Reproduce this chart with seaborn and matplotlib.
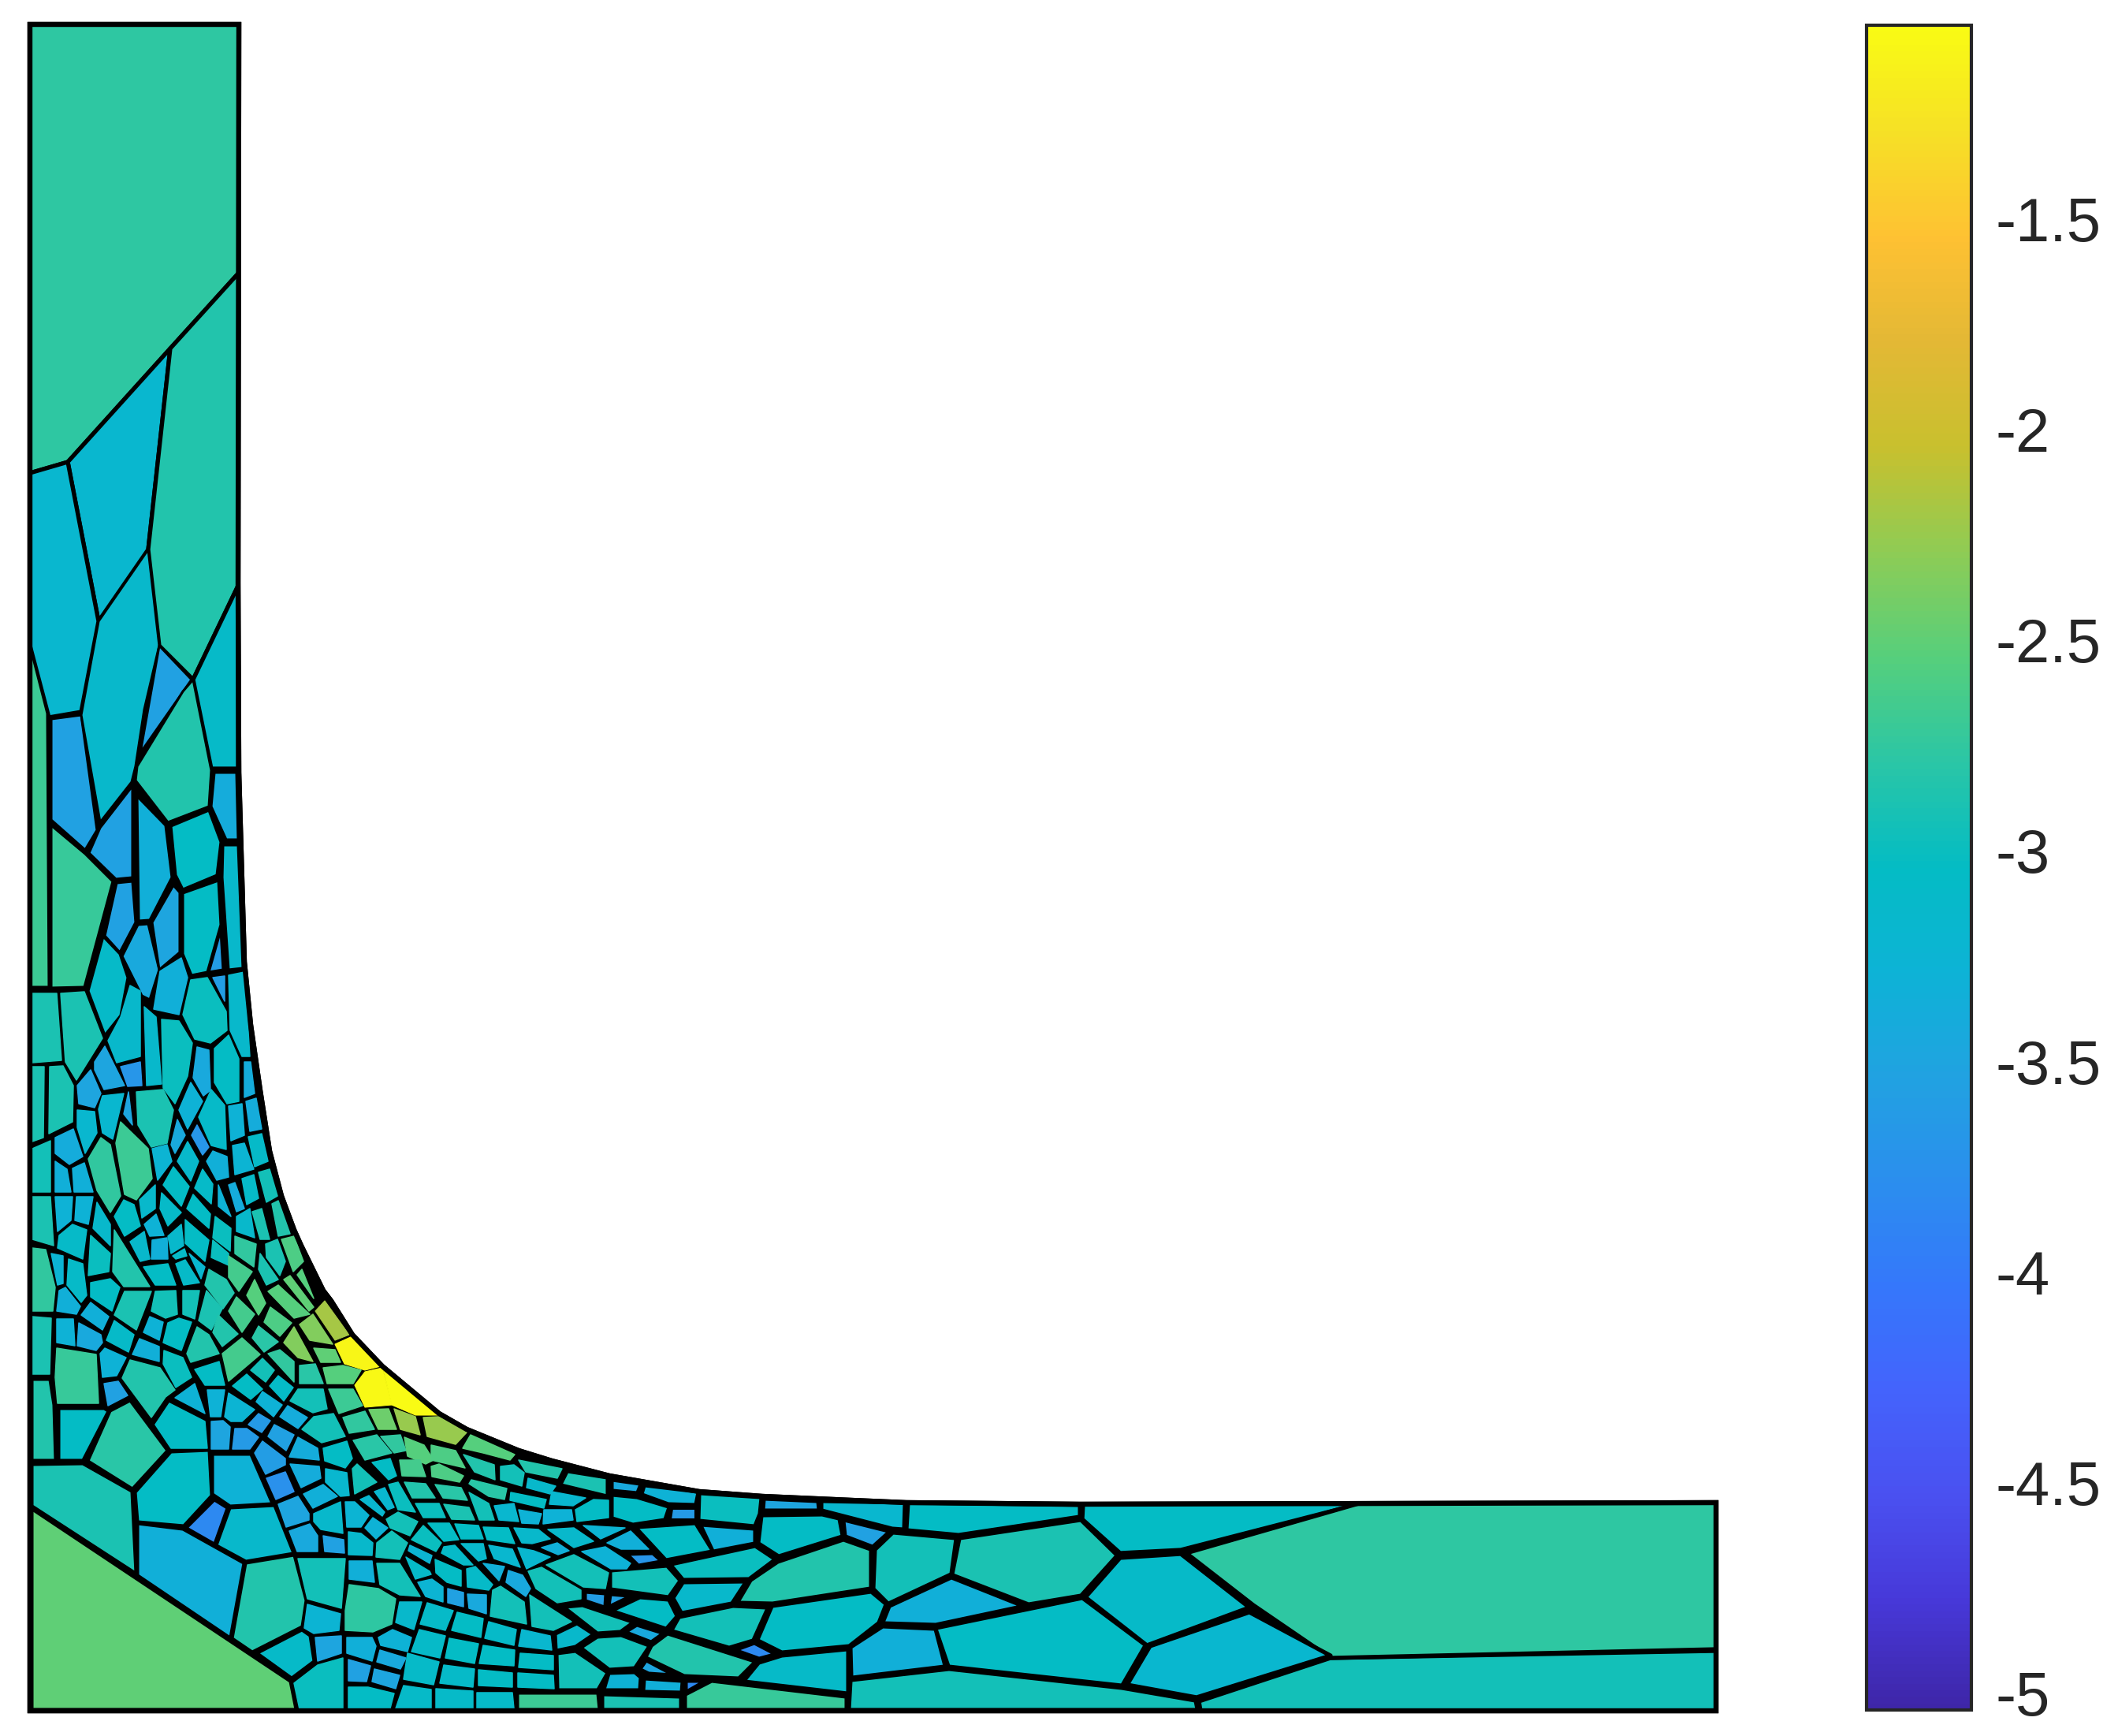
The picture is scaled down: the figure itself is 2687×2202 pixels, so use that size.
import numpy as np
import matplotlib
matplotlib.use("Agg")
import matplotlib.pyplot as plt
from matplotlib.collections import PolyCollection
from matplotlib.patches import Polygon
from matplotlib.transforms import ScaledTranslation
import seaborn as sns

# --- data: mesh, coordinates are image pixels ---
domain_outline = [(38, 31), (303, 31), (302, 740), (303, 980), (310, 1220), (318, 1300), (330, 1383),
                  (342, 1460), (357, 1517), (373, 1560), (382, 1580), (410, 1637), (420, 1650), (447, 1693),
                  (485, 1733), (557, 1793), (592, 1813), (658, 1840), (700, 1853), (773, 1872), (887, 1892),
                  (967, 1898), (1080, 1903), (1150, 1906), (1371, 1908), (2177, 1906), (2177, 2170), (38, 2170)]

# large cells read along the middle of their mesh lines
outlined_cells = [
    ([(38, 31), (303, 31), (303, 346), (216, 442), (86, 586), (38, 600)], -2.78),
    ([(86, 586), (216, 442), (188, 697), (125, 788)], -3.2),
    ([(216, 442), (303, 346), (302, 743), (245, 862), (202, 819), (188, 697)], -2.85),
    ([(38, 600), (86, 586), (125, 788), (103, 903), (62, 910), (38, 819)], -3.2),
    ([(245, 862), (302, 743), (302, 975), (268, 975)], -3.1),
    ([(1374, 1908), (1731, 1906), (1498, 1966), (1421, 1970), (1373, 1927)], -3.05),
    ([(1521, 2158), (1688, 2103), (2177, 2094), (2177, 2170), (1523, 2170)], -2.95),
    ([(1505, 1970), (1731, 1905), (2177, 1905), (2177, 2092), (1688, 2103), (1590, 2036)], -2.78),
    ([(1430, 2137), (1459, 2088), (1585, 2045), (1688, 2100), (1518, 2153)], -3.2),
    ([(1377, 2026), (1421, 1976), (1498, 1971), (1585, 2039), (1455, 2087)], -3.1),
]

# all other cells are read by their coloured inside
upright_cells = [
    ([(65, 912), (103, 907), (123, 1053), (108, 1078), (65, 1040)], -3.55),
    ([(125, 788), (188, 697), (202, 819), (183, 900), (172, 972), (167, 992), (127, 1043), (103, 907)], -3.15),
    ([(202, 819), (243, 862), (178, 955)], -3.55),
    ([(232, 877), (245, 862), (268, 977), (265, 1023), (213, 1043), (172, 990), (174, 972)], -2.85),
    ([(272, 980), (300, 980), (302, 1065), (287, 1065), (268, 1023)], -3.4),
    ([(168, 997), (168, 1113), (147, 1115), (113, 1082), (127, 1050)], -3.55),
    ([(174, 1010), (210, 1047), (218, 1113), (190, 1167), (176, 1168)], -3.35),
    ([(217, 1048), (265, 1028), (280, 1068), (275, 1110), (232, 1128), (223, 1110)], -3.05),
    ([(283, 1072), (302, 1072), (308, 1228), (290, 1230), (282, 1113)], -3.15),
    ([(65, 1047), (108, 1083), (143, 1118), (107, 1252), (65, 1253)], -2.72),
    ([(38, 819), (60, 905), (62, 1252), (38, 1252)], -2.7),
    ([(148, 1120), (168, 1118), (172, 1170), (152, 1208), (133, 1187)], -3.55),
    ([(155, 1213), (175, 1173), (188, 1172), (202, 1230), (190, 1268), (180, 1263)], -3.45),
    ([(193, 1170), (220, 1123), (228, 1132), (228, 1208), (202, 1230)], -3.5),
    ([(232, 1133), (277, 1117), (280, 1173), (263, 1233), (243, 1237), (232, 1210)], -3.05),
    ([(280, 1180), (283, 1230), (265, 1233)], -3.6),
    ([(131, 1188), (152, 1210), (162, 1240), (153, 1288), (133, 1313), (112, 1257)], -3.1),
]

column_cells = [
    ([(41, 1260), (72, 1260), (78, 1345), (41, 1348)], -2.9),
    ([(77, 1260), (107, 1258), (130, 1317), (97, 1370), (83, 1347)], -2.9),
    ([(137, 1320), (153, 1290), (165, 1250), (178, 1257), (178, 1340), (148, 1348)], -3.15),
    ([(120, 1347), (133, 1327), (158, 1377), (132, 1382), (120, 1357)], -3.5),
    ([(153, 1353), (178, 1347), (180, 1377), (162, 1378)], -3.7),
    ([(183, 1277), (198, 1290), (205, 1375), (186, 1377)], -3.15),
    ([(203, 1232), (230, 1215), (238, 1240), (227, 1287), (195, 1280)], -3.35),
    ([(242, 1243), (263, 1240), (287, 1283), (288, 1307), (267, 1323), (247, 1318), (232, 1287)], -3.0),
    ([(270, 1240), (285, 1238), (285, 1270)], -3.6),
    ([(290, 1237), (310, 1233), (317, 1340), (307, 1340), (292, 1307)], -3.15),
    ([(205, 1293), (227, 1295), (244, 1323), (238, 1365), (222, 1400), (207, 1380)], -3.0),
    ([(250, 1328), (265, 1332), (267, 1383), (258, 1390), (245, 1367)], -3.45),
    ([(272, 1330), (290, 1313), (303, 1343), (303, 1397), (288, 1400), (272, 1373)], -3.05),
    ([(310, 1347), (318, 1347), (323, 1387), (310, 1392)], -3.4),
    ([(173, 1385), (207, 1382), (220, 1408), (212, 1450), (192, 1455), (175, 1427)], -2.9),
    ([(242, 1373), (257, 1397), (238, 1432), (227, 1408)], -3.3),
    ([(268, 1382), (285, 1402), (287, 1458), (268, 1453), (252, 1417)], -3.1),
    ([(290, 1403), (307, 1400), (310, 1440), (293, 1447)], -3.3),
    ([(312, 1397), (325, 1393), (332, 1432), (317, 1435)], -3.4),
    ([(98, 1377), (115, 1357), (128, 1387), (120, 1405), (100, 1400)], -3.5),
    ([(130, 1390), (157, 1387), (143, 1445), (130, 1437), (125, 1407)], -3.2),
    ([(163, 1385), (168, 1427), (157, 1413)], -3.5),
    ([(41, 1353), (56, 1353), (55, 1443), (41, 1448)], -2.9),
    ([(63, 1353), (80, 1352), (93, 1377), (92, 1423), (62, 1438)], -2.9),
    ([(98, 1408), (120, 1410), (123, 1437), (108, 1463), (98, 1430)], -3.2),
    ([(41, 1457), (64, 1447), (64, 1512), (41, 1512)], -2.95),
    ([(70, 1443), (93, 1432), (105, 1467), (88, 1477), (70, 1463)], -3.4),
    ([(70, 1473), (85, 1483), (90, 1512), (70, 1512)], -3.35),
    ([(92, 1482), (107, 1475), (118, 1512), (94, 1512)], -3.35),
    ([(112, 1470), (128, 1443), (140, 1452), (153, 1517), (140, 1538), (123, 1510)], -2.75),
    ([(147, 1450), (153, 1423), (188, 1457), (193, 1495), (173, 1522), (158, 1515)], -2.7),
    ([(193, 1457), (212, 1452), (218, 1473), (200, 1497)], -3.25),
    ([(225, 1420), (235, 1440), (222, 1463), (217, 1452)], -3.45),
    ([(250, 1427), (265, 1455), (257, 1465), (243, 1440)], -3.7),
    ([(270, 1460), (288, 1467), (290, 1493), (275, 1497), (262, 1473)], -3.35),
    ([(238, 1448), (252, 1473), (242, 1498), (225, 1473)], -3.15),
    ([(295, 1453), (310, 1450), (322, 1483), (298, 1490)], -3.25),
    ([(315, 1442), (332, 1438), (340, 1473), (323, 1480)], -3.1),
    ([(220, 1480), (240, 1505), (230, 1530), (207, 1503)], -3.05),
    ([(257, 1483), (270, 1502), (268, 1527), (247, 1507)], -3.1),
    ([(277, 1503), (293, 1543), (277, 1530)], -3.3),
    ([(290, 1503), (298, 1500), (310, 1533), (300, 1537)], -3.4),
    ([(307, 1495), (322, 1490), (328, 1520), (313, 1528)], -3.1),
    ([(328, 1487), (342, 1483), (352, 1517), (338, 1525)], -2.95),
    ([(177, 1522), (197, 1503), (197, 1533), (180, 1545)], -3.15),
    ([(205, 1513), (230, 1538), (213, 1555), (203, 1533)], -3.1),
    ([(237, 1533), (245, 1515), (267, 1540), (265, 1558)], -3.05),
    ([(273, 1543), (293, 1558), (292, 1587), (270, 1570)], -3.0),
    ([(300, 1543), (317, 1533), (323, 1570), (300, 1562)], -3.15),
    ([(320, 1537), (332, 1533), (342, 1572), (330, 1572)], -2.9),
    ([(345, 1527), (353, 1523), (368, 1565), (353, 1568)], -2.85),
    ([(41, 1518), (64, 1518), (68, 1580), (41, 1572)], -2.9),
    ([(70, 1518), (92, 1518), (90, 1548), (73, 1562)], -3.3),
    ([(97, 1518), (118, 1518), (112, 1553), (95, 1548)], -3.3),
    ([(123, 1525), (140, 1553), (140, 1580), (118, 1558)], -3.15),
    ([(75, 1567), (92, 1553), (110, 1560), (105, 1597), (73, 1583)], -3.1),
    ([(157, 1522), (170, 1528), (178, 1555), (158, 1568), (145, 1543)], -3.05),
    ([(198, 1540), (208, 1567), (190, 1568), (183, 1553)], -3.3),
    ([(230, 1553), (233, 1580), (217, 1590), (213, 1568)], -3.15),
    ([(235, 1547), (265, 1573), (260, 1600), (235, 1577)], -3.05),
]

corner_cells = [
    ([(41, 1583), (58, 1585), (70, 1633), (67, 1663), (41, 1663)], -2.75),
    ([(65, 1590), (80, 1593), (80, 1628), (73, 1630)], -3.25),
    ([(87, 1597), (105, 1603), (110, 1643), (103, 1652), (85, 1630)], -3.1),
    ([(115, 1567), (140, 1590), (138, 1613), (112, 1618)], -3.0),
    ([(145, 1560), (190, 1632), (157, 1632), (143, 1613)], -2.85),
    ([(165, 1575), (183, 1562), (190, 1597), (178, 1600)], -3.15),
    ([(193, 1573), (212, 1570), (213, 1597), (192, 1597)], -3.35),
    ([(219, 1593), (234, 1584), (237, 1593), (223, 1597)], -3.1),
    ([(270, 1573), (290, 1590), (290, 1605), (268, 1595)], -3.0),
    ([(298, 1568), (325, 1578), (322, 1607), (298, 1590)], -2.75),
    ([(337, 1578), (352, 1572), (362, 1600), (355, 1618), (338, 1595)], -2.9),
    ([(357, 1572), (373, 1568), (385, 1600), (372, 1613)], -2.6),
    ([(182, 1607), (213, 1603), (223, 1630), (197, 1630)], -3.05),
    ([(223, 1603), (235, 1598), (253, 1627), (233, 1630)], -3.1),
    ([(240, 1590), (260, 1607), (255, 1622)], -3.2),
    ([(265, 1610), (287, 1623), (297, 1640), (283, 1660), (260, 1630)], -2.85),
    ([(290, 1593), (320, 1613), (303, 1638), (290, 1620)], -2.65),
    ([(330, 1590), (353, 1623), (338, 1630), (328, 1610)], -2.9),
    ([(323, 1623), (337, 1653), (328, 1668), (313, 1643)], -2.55),
    ([(340, 1638), (353, 1630), (393, 1667), (373, 1672)], -2.55),
    ([(360, 1623), (368, 1618), (398, 1658), (392, 1663)], -2.5),
    ([(377, 1617), (383, 1610), (398, 1647)], -2.55),
    ([(75, 1637), (83, 1633), (102, 1657), (97, 1667), (72, 1663)], -3.35),
    ([(41, 1670), (65, 1672), (63, 1743), (41, 1743)], -2.9),
    ([(72, 1673), (93, 1673), (95, 1707), (72, 1703)], -3.3),
    ([(115, 1652), (138, 1670), (130, 1687), (103, 1668)], -3.35),
    ([(100, 1678), (128, 1693), (130, 1703), (122, 1713), (98, 1707)], -3.45),
    ([(115, 1627), (140, 1622), (152, 1633), (142, 1663), (115, 1645)], -3.05),
    ([(158, 1638), (192, 1638), (173, 1687), (145, 1668)], -2.9),
    ([(145, 1675), (170, 1693), (163, 1715), (135, 1700)], -3.1),
    ([(190, 1670), (207, 1677), (202, 1700), (182, 1690)], -3.3),
    ([(197, 1638), (223, 1637), (225, 1667), (210, 1672), (192, 1663)], -2.95),
    ([(232, 1637), (253, 1637), (247, 1673), (232, 1667)], -2.95),
    ([(262, 1637), (282, 1660), (268, 1687), (252, 1675)], -2.9),
    ([(300, 1645), (323, 1667), (307, 1690), (290, 1663)], -2.65),
    ([(343, 1658), (370, 1678), (355, 1695), (335, 1677)], -2.6),
    ([(213, 1678), (227, 1672), (243, 1677), (230, 1713), (207, 1703)], -3.05),
    ([(250, 1683), (265, 1693), (278, 1717), (242, 1728), (237, 1717)], -2.85),
    ([(277, 1668), (302, 1692), (282, 1708), (270, 1690)], -2.85),
    ([(307, 1697), (330, 1718), (290, 1752), (282, 1717)], -2.65),
    ([(328, 1682), (353, 1702), (335, 1715), (320, 1697)], -2.8),
    ([(373, 1683), (397, 1727), (378, 1722), (360, 1703)], -2.35),
    ([(355, 1712), (373, 1727), (373, 1753), (340, 1717)], -2.75),
    ([(333, 1723), (348, 1738), (337, 1753), (318, 1738)], -2.95),
    ([(247, 1737), (278, 1727), (285, 1757), (260, 1757)], -3.05),
    ([(208, 1713), (232, 1722), (243, 1747), (223, 1760), (207, 1730)], -3.0),
    ([(177, 1698), (202, 1708), (202, 1727), (168, 1718)], -3.35),
    ([(133, 1710), (160, 1722), (148, 1745), (130, 1747), (127, 1717)], -3.3),
    ([(165, 1725), (203, 1735), (222, 1763), (210, 1772), (192, 1798), (155, 1748)], -2.85),
    ([(72, 1710), (122, 1718), (125, 1780), (73, 1780), (70, 1747)], -2.72),
    ([(132, 1755), (150, 1752), (162, 1770), (137, 1783)], -3.55),
    ([(247, 1755), (260, 1793), (222, 1773)], -3.3),
    ([(263, 1763), (285, 1763), (280, 1797), (267, 1797)], -3.3),
    ([(215, 1780), (260, 1803), (263, 1837), (217, 1837), (197, 1807)], -3.05),
    ([(290, 1767), (323, 1788), (307, 1803), (293, 1803), (285, 1797)], -3.25),
    ([(313, 1743), (333, 1762), (318, 1775), (295, 1758)], -3.05),
    ([(353, 1745), (372, 1760), (360, 1777), (342, 1758)], -3.08),
    ([(333, 1765), (358, 1782), (347, 1797), (325, 1778)], -3.3),
    ([(365, 1783), (390, 1798), (378, 1812), (355, 1797)], -3.4),
    ([(328, 1793), (343, 1802), (332, 1817), (315, 1807)], -3.65),
    ([(348, 1807), (373, 1820), (363, 1840), (340, 1822)], -3.55),
    ([(268, 1803), (283, 1802), (292, 1810), (290, 1838), (268, 1838)], -3.5),
    ([(298, 1812), (313, 1812), (328, 1823), (317, 1838), (295, 1838)], -3.65),
    ([(333, 1828), (362, 1850), (362, 1858), (337, 1870), (323, 1843)], -3.6),
    ([(378, 1823), (403, 1837), (405, 1852), (367, 1848)], -3.4),
    ([(368, 1857), (405, 1860), (407, 1875), (382, 1887)], -3.4),
    ([(362, 1867), (373, 1892), (350, 1902), (338, 1875)], -3.75),
    ([(378, 1898), (392, 1920), (392, 1928), (363, 1937), (353, 1908)], -3.5),
    ([(367, 1942), (393, 1933), (403, 1948), (403, 1968), (377, 1968)], -3.45),
]

throat_cells = [
    ([(380, 1680), (397, 1667), (422, 1705), (393, 1700)], -2.35),
    ([(398, 1710), (425, 1712), (432, 1728), (407, 1728)], -2.5),
    ([(410, 1735), (435, 1732), (458, 1738), (448, 1755), (415, 1755)], -2.55),
    ([(380, 1732), (400, 1730), (410, 1755), (380, 1755)], -2.8),
    ([(417, 1762), (448, 1762), (460, 1783), (430, 1793)], -2.7),
    ([(378, 1762), (410, 1762), (415, 1787), (397, 1792), (368, 1777)], -2.95),
    ([(468, 1788), (493, 1787), (503, 1813), (480, 1813)], -2.45),
    ([(500, 1787), (527, 1797), (533, 1820), (508, 1813)], -2.25),
    ([(537, 1798), (557, 1797), (592, 1817), (578, 1832), (542, 1822)], -2.25),
    ([(435, 1798), (463, 1790), (475, 1813), (443, 1818)], -2.75),
    ([(383, 1813), (398, 1797), (423, 1793), (438, 1822), (408, 1830)], -2.95),
    ([(410, 1837), (440, 1828), (447, 1850), (438, 1862), (412, 1853)], -3.05),
    ([(448, 1827), (478, 1820), (497, 1843), (463, 1852)], -2.8),
    ([(483, 1822), (508, 1820), (515, 1840), (500, 1843)], -2.75),
    ([(513, 1823), (538, 1833), (550, 1852), (540, 1857), (517, 1847)], -2.55),
    ([(547, 1833), (578, 1840), (590, 1862), (547, 1852)], -2.6),
    ([(587, 1837), (597, 1820), (653, 1845), (647, 1852), (613, 1843)], -2.55),
    ([(588, 1845), (627, 1858), (628, 1877), (602, 1867)], -2.85),
    ([(635, 1860), (652, 1858), (665, 1868), (662, 1885), (635, 1877)], -2.95),
    ([(658, 1852), (713, 1863), (707, 1875), (667, 1867)], -2.85),
    ([(507, 1852), (533, 1852), (540, 1873), (510, 1872)], -2.65),
    ([(547, 1860), (557, 1857), (588, 1872), (583, 1880), (548, 1873)], -2.6),
    ([(472, 1855), (495, 1850), (503, 1872), (493, 1877)], -3.05),
    ([(447, 1863), (453, 1857), (478, 1880), (450, 1895)], -2.95),
    ([(413, 1863), (440, 1868), (443, 1897), (432, 1898), (413, 1880)], -3.2),
    ([(513, 1880), (540, 1882), (552, 1900), (523, 1900)], -2.85),
    ([(552, 1883), (585, 1887), (593, 1903), (562, 1900)], -2.8),
    ([(598, 1877), (643, 1888), (640, 1902), (620, 1898), (595, 1882)], -2.8),
    ([(648, 1893), (693, 1902), (690, 1913), (647, 1903)], -3.05),
    ([(670, 1875), (705, 1885), (698, 1895), (668, 1887)], -3.15),
    ([(595, 1893), (620, 1907), (627, 1928), (608, 1928)], -2.95),
    ([(527, 1907), (557, 1907), (565, 1925), (537, 1925)], -3.0),
    ([(563, 1908), (595, 1912), (602, 1928), (573, 1927)], -2.9),
    ([(627, 1910), (652, 1907), (658, 1930), (633, 1928)], -3.2),
    ([(658, 1915), (687, 1920), (683, 1933), (662, 1932)], -3.3),
    ([(700, 1892), (743, 1900), (727, 1910), (697, 1908)], -3.2),
    ([(690, 1915), (725, 1915), (727, 1928), (689, 1933)], -3.3),
    ([(730, 1915), (753, 1902), (772, 1903), (772, 1925), (732, 1930)], -3.05),
    ([(543, 1932), (570, 1932), (582, 1953), (563, 1955)], -3.05),
    ([(577, 1933), (607, 1935), (613, 1952), (585, 1952)], -3.05),
    ([(613, 1937), (645, 1938), (653, 1958), (618, 1953)], -3.05),
    ([(652, 1938), (683, 1940), (698, 1952), (675, 1958), (662, 1957)], -3.15),
    ([(695, 1940), (728, 1938), (753, 1955), (728, 1963)], -3.15),
    ([(740, 1935), (793, 1938), (762, 1952)], -3.25),
    ([(770, 1957), (800, 1942), (823, 1965), (788, 1965)], -3.35),
    ([(738, 1968), (768, 1962), (800, 1983), (795, 1990), (775, 1990)], -3.3),
    ([(693, 1985), (728, 1972), (772, 1995), (768, 2015), (740, 2013)], -2.95),
    ([(687, 1963), (707, 1957), (722, 1967), (708, 1972)], -3.35),
    ([(657, 1963), (677, 1967), (698, 1975), (668, 1990)], -3.2),
    ([(620, 1960), (650, 1965), (660, 1988), (627, 1977)], -3.2),
    ([(585, 1958), (613, 1958), (617, 1977), (607, 1980)], -3.15),
    ([(563, 1962), (577, 1960), (600, 1985), (588, 1985), (560, 1970)], -3.1),
    ([(520, 1960), (548, 1973), (545, 1983), (518, 1967)], -3.25),
    ([(515, 1975), (545, 1993), (547, 1997), (527, 2003)], -3.1),
    ([(537, 1935), (560, 1957), (553, 1968), (522, 1953)], -3.0),
    ([(613, 1983), (640, 1987), (633, 2005)], -3.35),
    ([(552, 1978), (585, 1992), (585, 2012), (567, 2007), (553, 1995)], -3.05),
    ([(592, 1990), (603, 1987), (625, 2010), (620, 2017), (593, 2013)], -3.1),
    ([(645, 1992), (663, 1998), (673, 2015), (667, 2025), (642, 2007)], -3.45),
    ([(478, 1957), (497, 1942), (517, 1957), (507, 1978), (477, 1975)], -2.95),
    ([(442, 1943), (458, 1945), (473, 1957), (472, 1973), (442, 1972)], -3.15),
    ([(463, 1938), (473, 1925), (492, 1938), (477, 1952)], -3.3),
    ([(438, 1905), (450, 1905), (468, 1922), (458, 1937), (440, 1937)], -3.25),
    ([(490, 1927), (505, 1918), (530, 1930), (520, 1948), (495, 1938)], -2.95),
    ([(410, 1948), (436, 1953), (437, 1970), (412, 1968)], -3.55),
    ([(398, 1920), (432, 1905), (435, 1945), (407, 1940), (398, 1930)], -3.15),
    ([(457, 1902), (468, 1897), (488, 1918), (485, 1923)], -3.2),
    ([(475, 1892), (488, 1887), (500, 1912), (492, 1915)], -3.2),
    ([(493, 1883), (505, 1880), (527, 1918), (505, 1915)], -3.0),
    ([(385, 1895), (410, 1883), (428, 1898), (397, 1913)], -3.35),
]

floor_cells = [
    ([(625, 2017), (635, 2012), (665, 2032), (668, 2060), (622, 2050)], -2.95),
    ([(568, 2015), (588, 2020), (588, 2038), (568, 2033)], -3.55),
    ([(593, 2022), (617, 2023), (617, 2047), (595, 2040)], -3.45),
    ([(530, 2007), (548, 2003), (562, 2013), (562, 2032), (540, 2025)], -3.25),
    ([(478, 1983), (507, 1983), (533, 2025), (507, 2023), (482, 2010)], -2.95),
    ([(443, 1980), (472, 1980), (475, 2007), (443, 2003)], -3.35),
    ([(378, 1977), (438, 1977), (433, 2040), (390, 2028)], -2.95),
    ([(443, 2010), (480, 2015), (502, 2028), (497, 2060), (473, 2070), (438, 2068), (438, 2043)], -2.78),
    ([(507, 2032), (535, 2032), (525, 2067), (502, 2058)], -3.15),
    ([(390, 2035), (432, 2047), (430, 2068), (398, 2072), (386, 2065)], -3.25),
    ([(400, 2077), (433, 2075), (433, 2097), (403, 2107)], -3.5),
    ([(373, 2135), (403, 2112), (435, 2103), (435, 2168), (380, 2168)], -3.0),
    ([(440, 2077), (472, 2077), (477, 2088), (472, 2107), (440, 2097)], -3.35),
    ([(480, 2077), (498, 2067), (522, 2077), (517, 2095), (483, 2087)], -3.3),
    ([(482, 2093), (515, 2103), (508, 2117), (478, 2108)], -3.45),
    ([(442, 2105), (470, 2113), (465, 2133), (442, 2132)], -3.55),
    ([(475, 2117), (507, 2125), (502, 2142), (472, 2133)], -3.5),
    ([(442, 2140), (467, 2140), (500, 2148), (495, 2167), (442, 2167)], -3.05),
    ([(512, 2138), (547, 2143), (547, 2167), (502, 2167)], -3.1),
    ([(553, 2142), (600, 2145), (600, 2167), (553, 2167)], -3.1),
    ([(605, 2147), (650, 2147), (652, 2167), (605, 2167)], -3.1),
    ([(517, 2097), (557, 2108), (550, 2137), (512, 2130)], -3.1),
    ([(532, 2067), (565, 2075), (558, 2103), (522, 2095)], -3.1),
    ([(542, 2033), (575, 2043), (565, 2068), (533, 2060)], -3.1),
    ([(580, 2045), (613, 2053), (610, 2077), (573, 2068)], -3.05),
    ([(570, 2078), (607, 2085), (602, 2110), (565, 2103)], -3.05),
    ([(563, 2112), (602, 2117), (600, 2140), (558, 2135)], -3.1),
    ([(620, 2057), (655, 2067), (652, 2087), (615, 2078)], -3.1),
    ([(613, 2087), (653, 2093), (652, 2113), (608, 2110)], -3.05),
    ([(607, 2118), (650, 2122), (650, 2140), (607, 2138)], -3.05),
    ([(662, 2067), (698, 2075), (700, 2093), (658, 2088)], -3.2),
    ([(660, 2097), (702, 2100), (702, 2118), (658, 2115)], -3.05),
    ([(657, 2122), (702, 2125), (703, 2142), (657, 2140)], -3.05),
    ([(672, 2023), (725, 2057), (702, 2068), (675, 2063)], -2.95),
    ([(670, 1993), (687, 1988), (737, 2017), (737, 2028), (707, 2033), (680, 2015)], -2.95),
]

foot_cells = [
    ([(41, 1858), (105, 1857), (167, 1892), (172, 1995), (41, 1910)], -2.9),
    ([(41, 1915), (368, 2133), (375, 2168), (41, 2168)], -2.5),
    ([(175, 1933), (232, 1940), (309, 1983), (292, 2077), (175, 1998)], -3.35),
    ([(312, 1983), (373, 1973), (388, 2030), (383, 2063), (320, 2095), (295, 2078)], -2.85),
    ([(237, 1938), (272, 1903), (288, 1913), (272, 1958)], -3.85),
    ([(292, 1913), (348, 1910), (372, 1970), (312, 1980), (275, 1960)], -3.15),
    ([(172, 1893), (217, 1842), (265, 1840), (268, 1897), (233, 1935), (175, 1930)], -3.05),
    ([(270, 1845), (318, 1845), (345, 1907), (292, 1910), (270, 1895)], -3.3),
    ([(112, 1853), (168, 1888), (212, 1840), (165, 1777), (140, 1790)], -2.8),
    ([(75, 1787), (132, 1787), (137, 1790), (105, 1852), (75, 1852)], -3.05),
    ([(41, 1750), (63, 1750), (68, 1782), (70, 1852), (41, 1852)], -2.85),
    ([(327, 2097), (383, 2068), (393, 2075), (398, 2107), (370, 2128)], -3.1),
]

arm_cells = [
    ([(1043, 1905), (1147, 1907), (1146, 1939), (1132, 1938), (1043, 1915)], -3.2),
    ([(1153, 1907), (1369, 1910), (1369, 1923), (1216, 1946), (1151, 1940)], -3.05),
    ([(888, 1895), (965, 1900), (963, 1920), (957, 1935), (887, 1928)], -3.0),
    ([(970, 1902), (1037, 1905), (1038, 1915), (969, 1915)], -3.5),
    ([(967, 1923), (1043, 1922), (1064, 1927), (1068, 1948), (988, 1973), (963, 1957)], -3.05),
    ([(1071, 1929), (1127, 1943), (1107, 1961), (1073, 1948)], -3.55),
    ([(937, 2032), (953, 2005), (987, 1982), (1070, 1954), (1104, 1966), (1104, 2014), (980, 2033)], -2.85),
    ([(1111, 1966), (1133, 1945), (1212, 1952), (1206, 1996), (1127, 2033), (1109, 2015)], -2.95),
    ([(1218, 1952), (1371, 1929), (1416, 1973), (1371, 2023), (1305, 2034), (1209, 1997)], -2.9),
    ([(1129, 2038), (1207, 2002), (1295, 2037), (1187, 2060), (1121, 2058)], -3.35),
    ([(980, 2038), (1105, 2020), (1123, 2035), (1114, 2058), (1077, 2087), (992, 2095), (962, 2080)], -3.05),
    ([(1188, 2066), (1373, 2028), (1452, 2087), (1423, 2137), (1204, 2113)], -3.05),
    ([(1120, 2064), (1186, 2067), (1198, 2113), (1081, 2127), (1080, 2090)], -3.35),
    ([(963, 2110), (992, 2101), (1075, 2093), (1075, 2147), (945, 2132)], -3.1),
    ([(1080, 2132), (1204, 2118), (1423, 2142), (1516, 2158), (1518, 2168), (1078, 2168)], -2.95),
    ([(870, 2150), (903, 2133), (1073, 2153), (1073, 2168), (870, 2168)], -2.72),
    ([(827, 2088), (847, 2073), (957, 2108), (937, 2128), (868, 2125), (820, 2102)], -2.85),
    ([(935, 2093), (957, 2085), (982, 2098), (963, 2103)], -3.85),
    ([(853, 2068), (862, 2052), (930, 2038), (973, 2040), (955, 2080), (925, 2089)], -2.95),
    ([(778, 2043), (812, 2027), (848, 2030), (858, 2050), (845, 2065)], -3.05),
    ([(775, 1993), (846, 1987), (862, 2005), (848, 2025), (775, 2015)], -2.95),
    ([(867, 2008), (945, 2007), (928, 2033), (865, 2045), (855, 2027)], -3.15),
    ([(852, 1985), (958, 1962), (982, 1978), (950, 2002), (867, 2003)], -3.0),
    ([(808, 1938), (882, 1933), (903, 1967), (845, 1978)], -3.05),
    ([(890, 1935), (957, 1940), (957, 1957), (905, 1967)], -3.35),
    ([(777, 1897), (808, 1900), (848, 1912), (843, 1927), (803, 1933), (777, 1925)], -3.05),
    ([(852, 1913), (882, 1913), (882, 1927), (850, 1927)], -3.65),
    ([(777, 1878), (812, 1883), (808, 1893), (777, 1890)], -3.45),
    ([(818, 1885), (885, 1893), (882, 1908), (848, 1907), (815, 1895)], -3.3),
    ([(720, 1867), (770, 1875), (770, 1897), (712, 1883)], -2.9),
    ([(773, 2123), (805, 2122), (812, 2128), (811, 2143), (767, 2143)], -3.3),
    ([(818, 2130), (865, 2133), (864, 2146), (817, 2145)], -3.35),
    ([(813, 2117), (820, 2107), (852, 2124), (823, 2122)], -3.5),
    ([(871, 2133), (892, 2133), (871, 2145)], -3.85),
    ([(765, 2150), (863, 2153), (863, 2168), (765, 2168)], -2.9),
    ([(657, 2148), (758, 2148), (760, 2168), (657, 2168)], -2.7),
    ([(707, 2098), (730, 2095), (770, 2122), (758, 2143), (708, 2143)], -2.95),
    ([(738, 2090), (758, 2077), (788, 2075), (823, 2088), (805, 2115), (773, 2117)], -2.95),
    ([(795, 2070), (808, 2062), (840, 2072), (826, 2082)], -3.45),
    ([(717, 2039), (739, 2037), (802, 2058), (787, 2069), (758, 2071)], -2.95),
    ([(705, 2073), (732, 2060), (752, 2073), (730, 2088), (706, 2093)], -3.15),
    ([(743, 2020), (768, 2022), (767, 2038), (743, 2030)], -3.6),
    ([(775, 2023), (798, 2025), (773, 2037)], -3.55),
    ([(797, 1972), (828, 1971), (838, 1980), (810, 1985)], -3.7),
]

hot_cells = [
    ([(400, 1663), (412, 1650), (443, 1693), (425, 1700)], -2.2),
    ([(425, 1705), (447, 1695), (483, 1733), (463, 1738), (437, 1730)], -1.1),
    ([(450, 1757), (463, 1740), (485, 1735), (497, 1782), (463, 1785)], -1.07),
    ([(486, 1735), (556, 1795), (527, 1795), (497, 1782)], -1.05),
]

# parula-like colours, evenly spaced along the colorbar
parula_colors = ["#3E26A8", "#4738D8", "#4A50F0", "#4463FC", "#3577FB", "#2B8EEE", "#21A2E1", "#0DB3D6",
                 "#04BCC4", "#2AC6A6", "#56CF7C", "#8ECC55", "#C8C02E", "#E3B835", "#FEC133", "#F6E026", "#F9FB14"]
value_range = (-5.045, -1.047)
tick_values = [-5, -4.5, -4, -3.5, -3, -2.5, -2, -1.5]
tick_labels = ["-5", "-4.5", "-4", "-3.5", "-3", "-2.5", "-2", "-1.5"]

sns.set_theme(style="white")
plt.rcParams["font.family"] = ["Liberation Sans", "DejaVu Sans"]
mesh_cmap = sns.blend_palette(parula_colors, as_cmap=True)

fig = plt.figure(figsize=(2687 / 200, 2202 / 200), dpi=200)
ax = fig.add_axes([0, 0, 1, 1])
ax.set_xlim(0, 2687)
ax.set_ylim(2202, 0)
ax.axis("off")

# black under the whole mesh: what stays between the coloured insides is the mesh line
domain = Polygon(domain_outline, closed=True, facecolor="black", edgecolor="black", linewidth=2.3, zorder=1)
ax.add_patch(domain)
frame = Polygon(domain_outline, closed=True, facecolor="none", edgecolor="black", linewidth=2.3, zorder=6)
ax.add_patch(frame)


def cell_mesh(cells, edge, width, order):
    mesh = PolyCollection([np.array(c[0], dtype=float) for c in cells], array=np.array([c[1] for c in cells]),
                          cmap=mesh_cmap, edgecolors=edge, linewidths=width, zorder=order)
    mesh.set_clim(*value_range)
    ax.add_collection(mesh)
    mesh.set_clip_path(domain)
    return mesh


# the large cells touch each other, so they need a drawn line; the crowded ones have a gap already
cell_mesh(outlined_cells, "black", 1.9, 3)
big_mesh = cell_mesh(upright_cells + foot_cells + arm_cells, "black", 1.1, 4)
cell_mesh(column_cells + corner_cells + throat_cells + floor_cells, "face", 0.55, 5)
cell_mesh(hot_cells, "face", 0.4, 5)

# --- colorbar ---
cax = fig.add_axes([2368 / 2687, (2202 - 2169) / 2202, 133 / 2687, 2137 / 2202])
cbar = fig.colorbar(big_mesh, cax=cax)
cbar.set_ticks(tick_values)
cbar.set_ticklabels(tick_labels)
cbar.outline.set_edgecolor("#262626")
cbar.outline.set_linewidth(1.5)
cax.tick_params(axis="y", direction="in", length=8, width=1.2, color="#262626",
                labelsize=28, labelcolor="#262626", pad=11, right=True)
cax.minorticks_off()
label_shift = ScaledTranslation(0, -3 / 200, fig.dpi_scale_trans)
for label in cax.get_yticklabels():
    label.set_transform(label.get_transform() + label_shift)

plt.savefig("out.png", dpi=200)
plt.close()
